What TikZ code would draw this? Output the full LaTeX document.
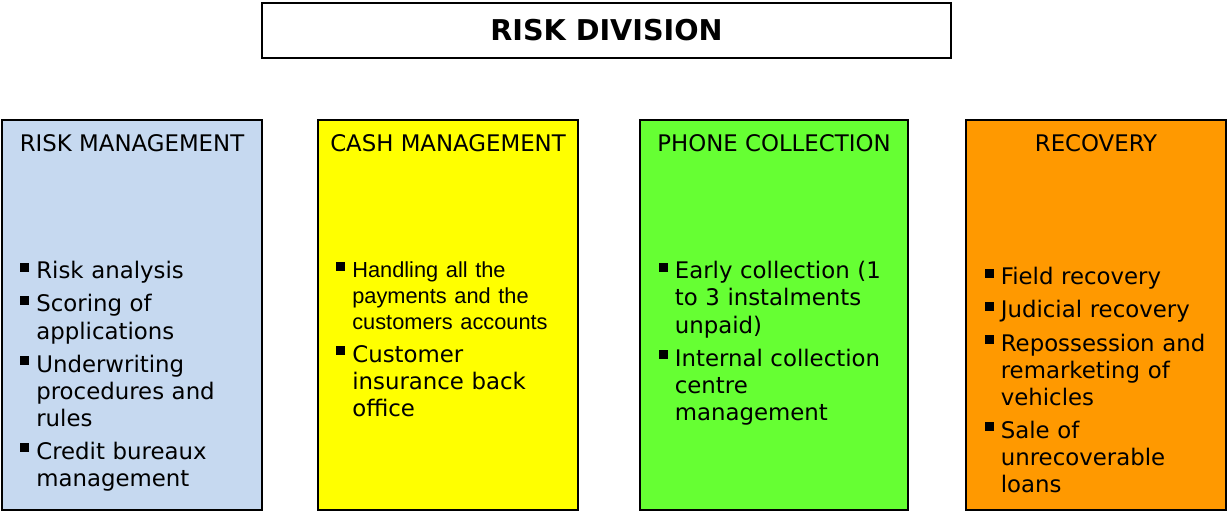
\documentclass[tikz,border=0pt]{standalone}
\usepackage{fontspec}
\setmainfont{DejaVu Sans}
\newfontfamily\arialfont{Liberation Sans}
\usetikzlibrary{positioning,calc}
\definecolor{riskblue}{RGB}{198,217,240}
\definecolor{cashyellow}{RGB}{255,255,0}
\definecolor{phonegreen}{RGB}{102,255,51}
\definecolor{recorange}{RGB}{255,153,0}
\newcommand{\itm}[1]{\par\hangindent=0.32cm\hangafter=1\noindent
  \makebox[0.32cm][l]{\raisebox{0.14cm}{\rule{0.18cm}{0.18cm}}}#1\par\vspace{0.12cm}}

\begin{document}
\begin{tikzpicture}[
  unit/.style={draw, line width=0.6pt, minimum height=7.8cm, inner sep=0pt},
  head/.style={anchor=base, inner sep=0pt, font=\fontsize{13pt}{15.4pt}\selectfont},
  items/.style={anchor=north west, inner sep=0pt, text width=4.7cm, align=left,
    font=\fontsize{13pt}{15.4pt}\selectfont}
]
\useasboundingbox (0,0) rectangle (24.56,-10.26);
% ----------------- Title -----------------
\node (title) [draw, line width=0.8pt, minimum width=13.78cm, minimum height=1.1cm,
  font=\fontsize{16.3pt}{19pt}\selectfont\bfseries] at (12.13,-0.61) {RISK DIVISION};

% ----------------- Units -----------------
\node (blue) [unit, fill=riskblue, minimum width=5.2cm] at (2.64,-6.3) {};
\node (yellow) [unit, fill=cashyellow, minimum width=5.2cm] at (8.96,-6.3) {};
\node (green) [unit, fill=phonegreen, minimum width=5.36cm] at (15.48,-6.3) {};
\node (orange) [unit, fill=recorange, minimum width=5.2cm] at (21.92,-6.3) {};

% ----------------- Headings -----------------
\node (bluehead) [head] at ([yshift=-0.64cm]blue.north) {RISK MANAGEMENT};
\node (yellowhead) [head] at ([yshift=-0.64cm]yellow.north) {CASH MANAGEMENT};
\node (greenhead) [head] at ([yshift=-0.64cm]green.north) {PHONE COLLECTION};
\node (orangehead) [head] at ([yshift=-0.64cm]orange.north) {RECOVERY};

% ----------------- Lists -----------------
\node (bluelist) [items] at ([xshift=0.37cm,yshift=-2.64cm]blue.north west) {
  \itm{Risk analysis}
  \itm{Scoring of\newline applications}
  \itm{Underwriting\newline procedures and\newline rules}
  \itm{Credit bureaux\newline management}
};
\node (yellowlist) [items] at ([xshift=0.37cm,yshift=-2.64cm]yellow.north west) {
  {\arialfont\fontsize{12.4pt}{14.7pt}\selectfont
  \itm{Handling all the\newline payments and the\newline customers accounts}}
  \itm{Customer\newline insurance back\newline office}
};
\node (greenlist) [items] at ([xshift=0.38cm,yshift=-2.64cm]green.north west) {
  \itm{Early collection (1\newline to 3 instalments\newline unpaid)}
  \itm{Internal collection\newline centre\newline management}
};
\node (orangelist) [items] at ([xshift=0.38cm,yshift=-2.76cm]orange.north west) {
  \itm{Field recovery}
  \itm{Judicial recovery}
  \itm{Repossession and\newline remarketing of\newline vehicles}
  \itm{Sale of\newline unrecoverable\newline loans}
};
\end{tikzpicture}
\end{document}
